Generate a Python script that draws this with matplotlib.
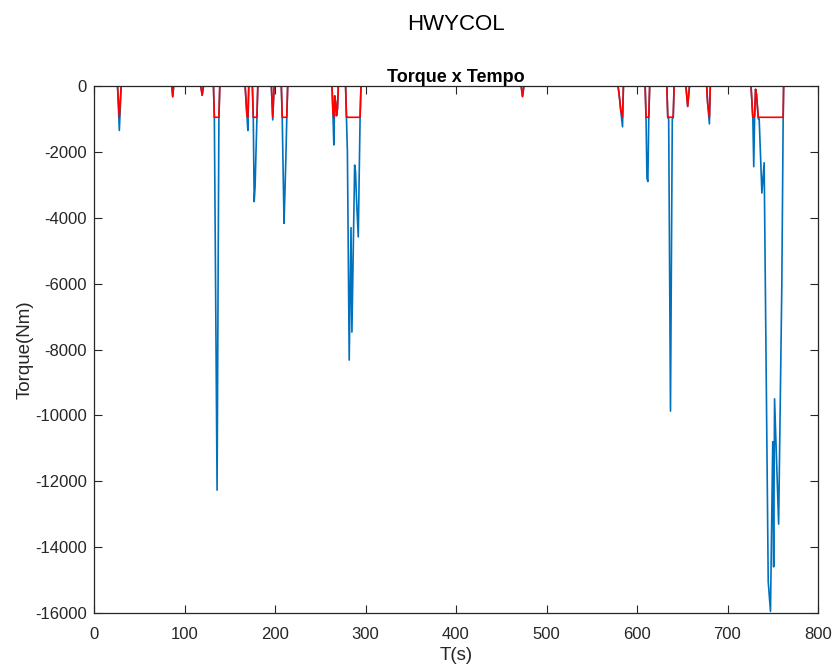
import numpy as np
import matplotlib
matplotlib.use("Agg")
import matplotlib.pyplot as plt

plt.rcParams['font.family'] = ['Liberation Sans', 'DejaVu Sans']
plt.rcParams['axes.unicode_minus'] = False

# Time samples (s) and braking torque (Nm)
time_s = [0, 26, 28, 30,
          86, 87, 88,
          118, 119.5, 121,
          132, 133, 136, 138, 139,
          167, 169, 170, 171,
          175, 176, 177, 178, 179, 180, 181,
          196, 197.5, 199,
          207, 208, 209, 210, 211, 212, 213, 214,
          263, 264, 265, 266, 267, 268, 269, 270,
          278, 279, 280, 282, 284, 285, 288, 289, 290, 292, 294, 295,
          472, 473.5, 475,
          579, 580, 581, 582, 584, 585,
          609, 610, 611, 612, 613, 614,
          633, 634, 635, 637, 639, 640, 641,
          654, 656, 658,
          677, 678, 680, 681,
          726, 728, 729, 730, 731, 732, 733, 734, 735, 738, 740.5,
          745, 747.5, 750, 751, 752, 756.5, 760, 761.5, 762, 765]
torque_nm = [0, 0, -1350, 0,
             0, -325, 0,
             0, -280, 0,
             0, -1000, -12270, -1000, 0,
             0, -900, -1350, 0,
             0, -1000, -3510, -3060, -2000, -1000, 0,
             0, -1030, 0,
             0, -1000, -2600, -4170, -3200, -2200, -1000, 0,
             0, -800, -1790, -300, -500, -900, -700, 0,
             0, -1000, -2000, -8320, -4300, -7470, -2400, -2600, -3400, -4580, -1000, 0,
             0, -320, 0,
             0, -200, -450, -730, -1240, 0,
             0, -1000, -2800, -2900, -1000, 0,
             0, -960, -1000, -9870, -1000, -960, 0,
             0, -620, 0,
             0, -500, -1150, 0,
             0, -1000, -2450, -900, -100, -250, -600, -1000, -1000, -3250, -2330,
             -15050, -15950, -10800, -14600, -9500, -13300, -6100, -1000, 0, 0]
motor_limit_nm = -950  # regenerative torque limit (red series)

torque = np.array(torque_nm, dtype=float)
regen = np.maximum(torque, motor_limit_nm)

fig = plt.figure(figsize=(8.36, 6.71), dpi=100)
ax = fig.add_axes([94/836, 58/671, 724/836, 527/671])

ax.plot(time_s, torque, color='#0072BD', lw=1.2)
ax.plot(time_s, regen, color='#FF0000', lw=1.2)

ax.set_xlim(0, 800)
ax.set_ylim(-16000, 0)
ax.set_xticks(np.arange(0, 801, 100))
ax.set_yticks(np.arange(-16000, 1, 2000))
ax.tick_params(direction='in', length=6, width=0.8, top=True, right=True,
               labelsize=12, colors='#262626')
ax.tick_params(axis='x', pad=10)
ax.tick_params(axis='y', pad=5)
for s in ax.spines.values():
    s.set_color('#262626')
    s.set_linewidth(0.9)

ax.set_xlabel('T(s)', fontsize=13.5, color='#262626', labelpad=4)
ax.set_ylabel('Torque(Nm)', fontsize=13.5, color='#262626', labelpad=1)
ax.set_title('Torque x Tempo', fontsize=13, fontweight='bold', pad=3)
fig.text(456/836, 1 - 25/671, 'HWYCOL', ha='center', va='center', fontsize=16)

fig.savefig('out.png', dpi=100)
